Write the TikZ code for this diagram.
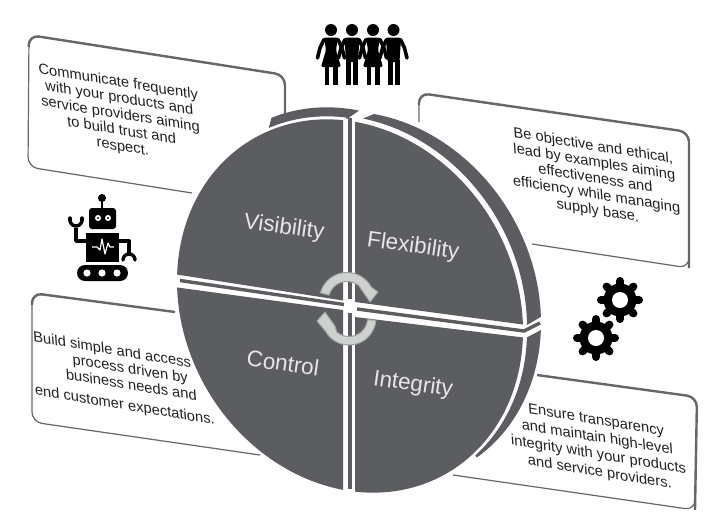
\documentclass[tikz,border=0pt]{standalone}
\usepackage{fontspec}
\setmainfont{Liberation Sans}
\definecolor{disc}{HTML}{5C5D61}
\definecolor{edge}{HTML}{66676B}
\definecolor{ring}{HTML}{CFD1CF}
\definecolor{ringline}{HTML}{9EA0A0}
\definecolor{bodytxt}{HTML}{222222}
\definecolor{disctxt}{HTML}{E6E6E6}
\tikzset{
  face/.style={fill=disc},
  sep/.style={draw=disc,line width=4pt},
  boxthin/.style={draw=edge,line width=1.2pt,rounded corners=10pt},
  boxthick/.style={draw=edge,line width=2.4pt,rounded corners=10pt},
  bodytext/.style={text=bodytxt,align=center,font=\fontsize{14.7}{16.2}\selectfont,inner sep=0pt,cm={1,-0.165,-0.07,1,(0,0)}},
  disctext/.style={text=disctxt,font=\fontsize{22.5}{24}\selectfont,inner sep=0pt,rotate=-8},
  arrowring/.style={fill=ring,draw=ringline,line width=1pt,line join=round},
  declare function={dx(\t,\c)=\c+173*cos(\t); dy(\t,\c)=\c+25*cos(\t)-185*sin(\t);}
}
\newcommand{\headarms}[1]{
  \fill (#1,30) circle (6);
  \draw[line width=3.6pt,line cap=round,line join=round] (#1-7,39.5) -- (#1-11,48) -- (#1-13.5,58);
  \draw[line width=3.6pt,line cap=round,line join=round] (#1+7,39.5) -- (#1+11,48) -- (#1+13.5,58);
}
\newcommand{\woman}[1]{
  \headarms{#1}
  \fill[rounded corners=1.5pt] (#1-7,37.5) -- (#1+7,37.5) -- (#1+5,50) -- (#1+10,67) -- (#1-10,67) -- (#1-5,50) -- cycle;
  \fill (#1-6.5,66) rectangle (#1-2,84.5);
  \fill (#1+2,66) rectangle (#1+6.5,84.5);
}
\newcommand{\man}[1]{
  \headarms{#1}
  \fill[rounded corners=1.5pt] (#1-7.5,37.5) -- (#1+7.5,37.5) -- (#1+6,62) -- (#1-6,62) -- cycle;
  \fill (#1-6,60) rectangle (#1-1,84.5);
  \fill (#1+1,60) rectangle (#1+6,84.5);
}
\newcommand{\gearicon}[2]{
  \fill (#1,#2) circle (16.5);
  \foreach \a in {0,45,...,315}
    \draw[line width=8pt,line cap=round] ({#1+16*cos(\a)},{#2+16*sin(\a)}) -- ({#1+19*cos(\a)},{#2+19*sin(\a)});
  \fill[white] (#1,#2) circle (8);
}
\begin{document}
\begin{tikzpicture}[x=1pt,y=-1pt,samples=45]
\useasboundingbox[fill=white] (0,0) rectangle (720,531);

% text boxes
\draw[boxthin] (192,193) -- (28,167) -- (29,35) -- (120,49);
\draw[boxthick] (28.7,47) -- (29,35) -- (285,75) -- (285,115);
\draw[boxthin] (532,244) -- (689,268) -- (689,180);
\draw[boxthin] (419,122) -- (419,93) -- (500,105);
\draw[boxthick] (419,105) -- (419,93) -- (689,132) -- (689,268);
\draw[boxthin] (260,455) -- (32,422) -- (32,293) -- (60,297);
\draw[boxthick] (32,305) -- (32,293) -- (175,312);
\draw[boxthin] (453,475) -- (695,510) -- (696,440);
\draw[boxthick] (537,375) -- (697,397) -- (695,510);

% rims
\fill[face] plot[domain=87:117] ({dx(\x,350)},{dy(\x,294)}) -- plot[domain=118:91.5] ({dx(\x,350)},{dy(\x,303)}) -- (347,119) -- cycle;
\fill[face] plot[domain=88:1.9] ({dx(\x,368)},{dy(\x,298)}) -- (527,325) -- plot[domain=0.6:87] ({dx(\x,354)},{dy(\x,302)}) -- cycle;
\fill[face] plot[domain=-2:-45.5] ({dx(\x,354)},{dy(\x,306)}) -- plot[domain=-51:-2.2] ({dx(\x,368)},{dy(\x,298)}) -- cycle;

% quadrants
\fill[face] (343,300.5) -- plot[domain=178:92.3] ({dx(\x,350)},{dy(\x,306)}) -- cycle;
\fill[face] (355,302) -- plot[domain=2:88.3] ({dx(\x,350)},{dy(\x,306)}) -- cycle;
\fill[face] (343,310) -- plot[domain=182:267.7] ({dx(\x,350)},{dy(\x,306)}) -- cycle;
\fill[face] (355,317) -- plot[domain=-2:-88.3] ({dx(\x,350)},{dy(\x,306)}) -- cycle;

% separators
\draw[sep] (349.5,118) -- (349.5,299);
\draw[sep] (349.5,313) -- (349.5,489);
\draw[sep,line width=3.4pt] (180,280.5) -- (344,304.5);
\draw[sep,line width=3.4pt] (357,309) -- (524,331) -- (540,323);

% circular arrows
\path[arrowring] plot[domain=195:332,samples=30] ({347+27.5*cos(\x)},{300+27.5*sin(\x)}) -- (378,292) -- (370,302) -- (359,286) -- plot[domain=312:195,samples=30] ({347+18.5*cos(\x)},{300+18.5*sin(\x)}) -- cycle;
\path[arrowring] plot[domain=5:150,samples=30] ({349+27*cos(\x)},{318+27*sin(\x)}) -- (317,321) -- (325,312) -- (335,326) -- plot[domain=132:5,samples=30] ({349+18.5*cos(\x)},{318+18.5*sin(\x)}) -- cycle;

% box texts
\node[bodytext] (t1) at (120.5,115) {Communicate frequently\\with your products and\\service providers aiming\\to build trust and\\respect.};
\node[bodytext] (t2) at (595.5,179) {Be objective and ethical,\\lead by examples aiming\\effectiveness and\\efficiency while managing\\supply base.};
\node[bodytext] (t3) at (128,380) {Build simple and access\hspace*{28pt}\\\hspace*{6pt}process driven by\\\hspace*{6pt}business needs and\\[5pt]end customer expectations.\hspace*{10pt}};
\node[bodytext] (t4) at (598,447) {Ensure transparency\\[1.2pt]and maintain high-level\\[1.2pt]integrity with your products\\[1.2pt]and service providers.};

% quadrant labels
\node[disctext] (vis) at (284,228) {Visibility};
\node[disctext] (fle) at (413,247) {Flexibility};
\node[disctext] (con) at (283,363) {Control};
\node[disctext] (int) at (413,385) {Integrity};

% people
\woman{331}\man{352}\woman{373}\man{393.5}

% gears
\gearicon{620}{300}
\gearicon{596}{338}

% robot
\fill (102,198) circle (4);
\fill (101,198) rectangle (103,208);
\fill[rounded corners=3pt] (89,208) rectangle (116,229);
\fill[white] (98,218) circle (3);\fill[white] (108,218) circle (3);
\fill (98,218) circle (1.2);\fill (108,218) circle (1.2);
\fill (86,233) rectangle (119,262);
\draw[white,line width=1.2pt,line join=round] (92,247) -- (97,247) -- (100,250) -- (102,239) -- (105,254) -- (108,243) -- (110,247) -- (114,247);
\draw[line width=3.4pt,line join=round] (87,241) -- (76,241) -- (76,228);
\draw[line width=3.4pt,line cap=round] plot[domain=0:180,samples=12] ({76+6*cos(\x)},{220+6*sin(\x)});
\draw[line width=3.4pt,line cap=round] (70,220) -- (70,218);
\draw[line width=3.4pt,line cap=round] (82,220) -- (82,218);
\draw[line width=3.4pt,line join=round] (118,241) -- (129,241) -- (129,253);
\draw[line width=3.4pt,line cap=round] plot[domain=180:360,samples=12] ({129+6*cos(\x)},{260+6*sin(\x)});
\fill[rounded corners=8pt] (77,265) rectangle (128,281);
\foreach \wx in {87,102,117} \fill[white] (\wx,273) circle (3.6);
\end{tikzpicture}
\end{document}
